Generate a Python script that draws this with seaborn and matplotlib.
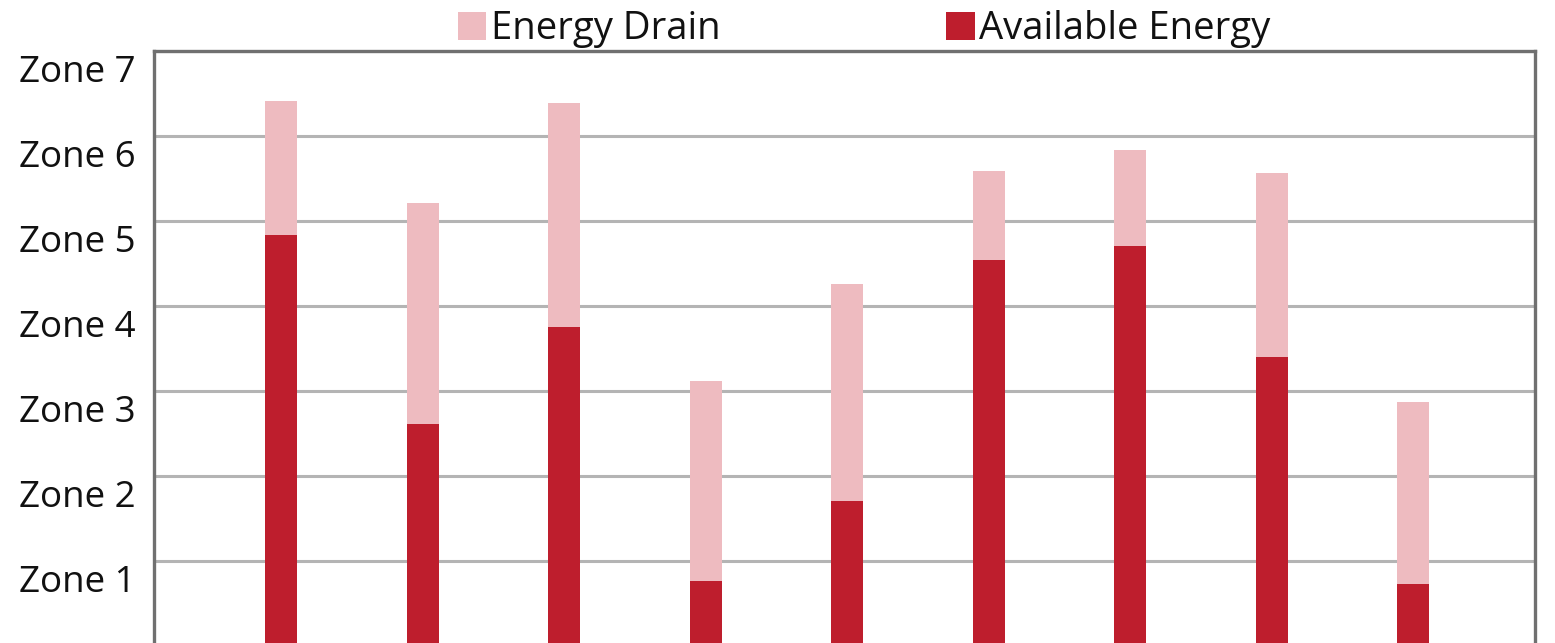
import matplotlib
matplotlib.use("Agg")
import matplotlib.pyplot as plt
from matplotlib.transforms import ScaledTranslation
from matplotlib.patches import Patch
import seaborn as sns
import pandas as pd

# Energy readings per session, in zone units
sessions = ["S1", "S2", "S3", "S4", "S5", "S6", "S7", "S8", "S9"]
available_energy = [4.84, 2.61, 3.75, 0.76, 1.71, 4.54, 4.71, 3.40, 0.73]
energy_drain = [1.57, 2.60, 2.64, 2.36, 2.55, 1.05, 1.13, 2.16, 2.14]
zone_labels = ["Zone 1", "Zone 2", "Zone 3", "Zone 4", "Zone 5", "Zone 6", "Zone 7"]

DRAIN_COLOR = "#EEBBC0"
AVAIL_COLOR = "#BE1E2D"

sns.set_theme(style="white")
plt.rcParams["font.family"] = ["Open Sans", "DejaVu Sans"]

df = pd.DataFrame({
    "session": sessions,
    "available": available_energy,
    "total": [a + d for a, d in zip(available_energy, energy_drain)],
})

W, H = 1555, 643
fig = plt.figure(figsize=(W / 100, H / 100), dpi=100)
left_px, right_px, top_px, bottom_px = 154, 1535, 51, 646
ax = fig.add_axes([left_px / W, 1 - bottom_px / H,
                   (right_px - left_px) / W, (bottom_px - top_px) / H])

sns.barplot(data=df, x="session", y="total", color=DRAIN_COLOR, width=0.227,
            saturation=1, linewidth=0, ax=ax, zorder=3)
sns.barplot(data=df, x="session", y="available", color=AVAIL_COLOR, width=0.227,
            saturation=1, linewidth=0, ax=ax, zorder=4)

ax.set_xlim(-0.9, 8.86)
ax.set_ylim(0, 7)
ax.set_xlabel("")
ax.set_ylabel("")

ax.set_yticks(range(1, 8))
ax.set_yticklabels(zone_labels, fontsize=26.5, color="#111111")
ax.tick_params(axis="y", length=0, pad=13)
ax.tick_params(axis="x", length=0, labelbottom=False)
offset = ScaledTranslation(0, -0.22, fig.dpi_scale_trans)
for lbl in ax.get_yticklabels():
    lbl.set_verticalalignment("center")
    lbl.set_transform(lbl.get_transform() + offset)

ax.yaxis.grid(True, color="#b4b4b4", linewidth=2.2, zorder=0)
ax.set_axisbelow(True)
for side in ["left", "right", "top", "bottom"]:
    ax.spines[side].set_visible(True)
    ax.spines[side].set_color("#707070")
    ax.spines[side].set_linewidth(2.4)

handles = [Patch(facecolor=DRAIN_COLOR, edgecolor="none", label="Energy Drain"),
           Patch(facecolor=AVAIL_COLOR, edgecolor="none", label="Available Energy")]
fig.legend(handles=handles, ncol=2, loc="center", bbox_to_anchor=(864 / W, 1 - 29 / H),
           frameon=False, fontsize=27.5, handlelength=0.75, handleheight=0.75,
           handletextpad=0.12, columnspacing=5.9, borderpad=0, labelcolor="#111111")

fig.savefig("out.png", dpi=100)
